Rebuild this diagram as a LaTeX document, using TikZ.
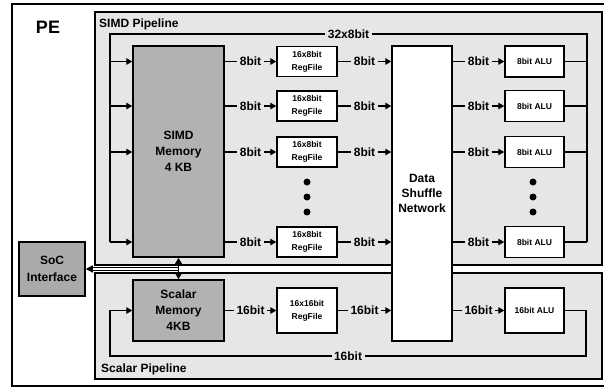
\documentclass[tikz,border=0pt]{standalone}
\usepackage{fontspec}
\setmainfont{Liberation Sans}
\usetikzlibrary{arrows.meta,positioning,calc}
\definecolor{PeLight}{RGB}{230,230,230}
\definecolor{PeMem}{RGB}{178,178,178}
\definecolor{PeSoc}{RGB}{170,170,170}
\tikzset{
  pe/frame/.style={draw=black, line width=1.5pt},
  pe/mem/.style={
    draw=black,
    line width=1.5pt,
    fill=PeMem,
    align=center,
    inner sep=0pt,
    font=\fontsize{12}{16}\selectfont\bfseries
  },
  pe/unit/.style={
    draw=black,
    line width=1.5pt,
    fill=white,
    align=center,
    inner sep=0pt,
    font=\fontsize{8.5}{13}\selectfont\bfseries
  },
  pe/wire/.style={line width=1.4pt, draw=black},
  pe/arrow/.style={-{Triangle[length=6pt,width=6.5pt]}, line width=1.4pt, draw=black},
  pe/width/.style={font=\fontsize{12}{14}\selectfont\bfseries, fill=PeLight, inner xsep=2.5pt, inner ysep=1pt},
  pe/title/.style={font=\fontsize{12}{14}\selectfont\bfseries, anchor=west, inner sep=0pt},
  pe/dot/.style={circle, fill=black, minimum size=7pt, inner sep=0pt}
}

\begin{document}
\begin{tikzpicture}[x=1pt,y=-1pt]
  \useasboundingbox (0,0) rectangle (604,388);
  \clip (0,0) rectangle (604,388);
  % frames
  \draw[pe/frame, fill=white] (12,4) rectangle (614,386);
  \node[font=\fontsize{18}{20}\selectfont\bfseries] (pe) at (48,27) {PE};
  \draw[pe/frame, fill=PeLight] (95,12) rectangle (602,265);
  \draw[pe/frame, fill=PeLight] (95,273) rectangle (602,379);
  \node[pe/title] (simdtitle) at (99,24) {SIMD Pipeline};
  \node[pe/title] (scaltitle) at (101,369) {Scalar Pipeline};

  % memories and shuffle
  \node[pe/mem, minimum width=91pt, minimum height=211pt] (simdmem) at (178.5,151.5) {SIMD\\Memory\\4 KB};
  \node[pe/mem, minimum width=91pt, minimum height=61pt] (scalmem) at (178.5,310.5) {Scalar\\Memory\\4KB};
  \node[pe/mem, fill=PeSoc, minimum width=66pt, minimum height=54pt, font=\fontsize{12}{17}\selectfont\bfseries] (soc) at (52,269) {SoC\\Interface};
  \node[pe/unit, minimum width=60pt, minimum height=295pt, font=\fontsize{12}{15}\selectfont\bfseries] (shuffle) at (422,193.5) {Data\\Shuffle\\Network};

  \coordinate (busL) at (110,34);
  \coordinate (busR) at (587,34);

  % SIMD lanes
  \foreach \i/\y in {1/61.5,2/106,3/152,4/242}{
    \node[pe/unit, minimum width=60pt, minimum height=30pt] (rf\i) at (307,\y) {16x8bit\\RegFile};
    \node[pe/unit, minimum width=59pt, minimum height=31pt] (alu\i) at (534.5,\y) {8bit ALU};
    \draw[pe/arrow] (simdmem.east|-rf\i) -- node[pe/width]{8bit} (rf\i.west);
    \draw[pe/arrow] (rf\i.east) -- node[pe/width]{8bit} (shuffle.west|-rf\i);
    \draw[pe/arrow] (shuffle.east|-alu\i) -- node[pe/width]{8bit} (alu\i.west);
    \draw[pe/wire] (alu\i.east) -- (busR|-alu\i);
    \draw[pe/arrow] (busL|-rf\i) -- (simdmem.west|-rf\i);
  }
  \draw[pe/wire] (busR|-alu4) -- (busR) -- node[pe/width]{32x8bit} (busL) -- (busL|-rf4);

  \foreach \y in {182,197,212}{
    \node[pe/dot] (rfdot\y) at (307,\y) {};
    \node[pe/dot] (aludot\y) at (533,\y) {};
  }

  % scalar lane
  \node[pe/unit, minimum width=60pt, minimum height=45pt] (srf) at (307,310.5) {16x16bit\\RegFile};
  \node[pe/unit, minimum width=59pt, minimum height=45pt] (salu) at (534.5,310.5) {16bit ALU};
  \draw[pe/arrow] (scalmem.east) -- node[pe/width]{16bit} (srf.west);
  \draw[pe/arrow] (srf.east) -- node[pe/width]{16bit} (shuffle.west|-srf);
  \draw[pe/arrow] (shuffle.east|-salu) -- node[pe/width]{16bit} (salu.west);
  \coordinate (loopR) at (586,356);
  \coordinate (loopL) at (110,356);
  \draw[pe/arrow] (salu.east) -| (loopR) -- node[pe/width]{16bit} (loopL) |- (scalmem.west);

  % SoC bus
  \coordinate (busjoin) at (178.5,269);
  \draw[double, double distance=2pt, line width=1.3pt, -{Triangle[length=7pt,width=7pt]}] (busjoin) -- (soc.east|-busjoin);
  \draw[pe/arrow, {Triangle[length=6pt,width=6.5pt]}-{Triangle[length=6pt,width=6.5pt]}] (simdmem.south) -- (scalmem.north);
\end{tikzpicture}
\end{document}
